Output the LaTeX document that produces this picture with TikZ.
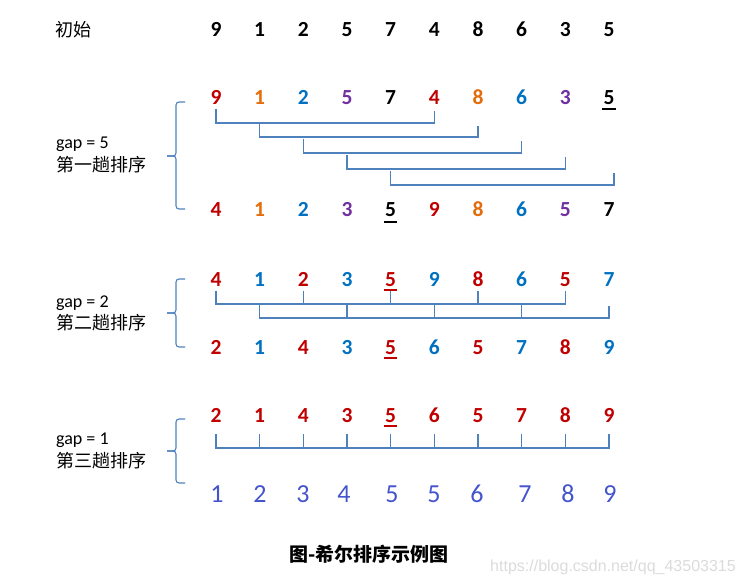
\documentclass[tikz,border=0pt]{standalone}
\usepackage{fontspec}
\setmainfont{Carlito}
\newfontfamily\cjk{Noto Sans CJK SC}
\newfontfamily\wmfont{Liberation Sans}
\definecolor{R}{HTML}{C00000}
\definecolor{O}{HTML}{E46C0A}
\definecolor{B}{HTML}{0070C0}
\definecolor{P}{HTML}{7030A0}
\definecolor{K}{HTML}{000000}
\definecolor{thin}{RGB}{68,84,204}
\definecolor{lineblue}{RGB}{79,129,189}
\begin{document}
\begin{tikzpicture}[x=1pt,y=-1pt,
  dig/.style={inner sep=0pt, anchor=base, font=\fontsize{21.5}{24}\selectfont\bfseries},
  thindig/.style={inner sep=0pt, anchor=base, text=thin, font=\fontsize{26}{30}\selectfont},
  conn/.style={draw=lineblue, line width=1.1pt},
  bracestyle/.style={draw=lineblue, line width=1.1pt, rounded corners=3pt},
  ulK/.style={draw=K, line width=1.7pt},
  ulR/.style={draw=R, line width=1.7pt},
  lbl/.style={inner sep=0pt, font=\fontsize{18}{22}\selectfont},
  cjklbl/.style={inner sep=0pt, font=\cjk\fontsize{18}{22}\selectfont}]
\useasboundingbox (0,0) rectangle (744,585);

% initial row
\node[cjklbl, anchor=west] (init) at (55,30) {初始};
\foreach \v/\c [count=\i] in {9/K,1/K,2/K,5/K,7/K,4/K,8/K,6/K,3/K,5/K}{
  \pgfmathsetmacro\xx{216+43.67*(\i-1)}
  \node[dig,text=\c] (s\i) at (\xx,37) {\v};
}

% group 1
\foreach \v/\c [count=\i] in {9/R,1/O,2/B,5/P,7/K,4/R,8/O,6/B,3/P,5/K}{
  \pgfmathsetmacro\xx{216+43.67*(\i-1)}
  \node[dig,text=\c] (a\i) at (\xx,105) {\v};
}
\foreach \v/\c [count=\i] in {4/R,1/O,2/B,3/P,5/K,9/R,8/O,6/B,5/P,7/K}{
  \pgfmathsetmacro\xx{216+43.67*(\i-1)}
  \node[dig,text=\c] (b\i) at (\xx,217) {\v};
}
\draw[ulK] ([shift={(-1pt,-4pt)}]a10.base west) -- ([shift={(1pt,-4pt)}]a10.base east);
\draw[ulK] ([shift={(-1pt,-5pt)}]b5.base west) -- ([shift={(1pt,-5pt)}]b5.base east);

\draw[conn] (a1 |- 0,109) -- (a1 |- 0,123) -| (a6 |- 0,111);
\draw[conn] (a2 |- 0,123) -- (a2 |- 0,137) -| (a7 |- 0,126);
\draw[conn] (a3 |- 0,139) -- (a3 |- 0,153) -| (a8 |- 0,141);
\draw[conn] (a4 |- 0,155) -- (a4 |- 0,169) -| (a9 |- 0,157);
\coordinate (e5) at (614,173);
\draw[conn] (a5 |- 0,171) -- (a5 |- 0,185) -| (e5);

\draw[bracestyle] (185,102) -- (176,102) -- (176,156) -- (167,156);
\draw[bracestyle] (167,156) -- (176,156) -- (176,209) -- (185,209);
\node[lbl, anchor=base west] (g1) at (56,149) {gap = 5};
\node[cjklbl, anchor=west] (t1) at (56,165) {第一趟排序};

% group 2
\foreach \v/\c [count=\i] in {4/R,1/B,2/R,3/B,5/R,9/B,8/R,6/B,5/R,7/B}{
  \pgfmathsetmacro\xx{216+43.67*(\i-1)}
  \node[dig,text=\c] (c\i) at (\xx,287) {\v};
}
\foreach \v/\c [count=\i] in {2/R,1/B,4/R,3/B,5/R,6/B,5/R,7/B,8/R,9/B}{
  \pgfmathsetmacro\xx{216+43.67*(\i-1)}
  \node[dig,text=\c] (d\i) at (\xx,354) {\v};
}
\draw[ulR] ([shift={(-1pt,-3pt)}]c5.base west) -- ([shift={(1pt,-3pt)}]c5.base east);
\draw[ulR] ([shift={(-1pt,-4pt)}]d5.base west) -- ([shift={(1pt,-4pt)}]d5.base east);

\draw[conn] (c1 |- 0,291) -- (c1 |- 0,304) -- (c9 |- 0,304) -- (c9 |- 0,291);
\foreach \k in {3,5,7}{ \draw[conn] (c\k |- 0,291) -- (c\k |- 0,304); }
\draw[conn] (c2 |- 0,304) -- (c2 |- 0,318) -- (c10 |- 0,318) -- (c10 |- 0,306);
\foreach \k in {4,6,8}{ \draw[conn] (c\k |- 0,304) -- (c\k |- 0,318); }

\draw[bracestyle] (185,279) -- (176,279) -- (176,313) -- (167,313);
\draw[bracestyle] (167,313) -- (176,313) -- (176,347) -- (185,347);
\node[lbl, anchor=base west] (g2) at (56,307) {gap = 2};
\node[cjklbl, anchor=west] (t2) at (56,323) {第二趟排序};

% group 3
\foreach \v [count=\i] in {2,1,4,3,5,6,5,7,8,9}{
  \pgfmathsetmacro\xx{216+43.67*(\i-1)}
  \node[dig,text=R] (e\i) at (\xx,422) {\v};
}
\draw[ulR] ([shift={(-1pt,-4pt)}]e5.base west) -- ([shift={(1pt,-4pt)}]e5.base east);
\foreach \v/\xx [count=\i] in {1/217,2/260,3/303,4/344,5/392,5/434,6/477,7/525,8/568,9/610}{
  \node[thindig] (f\i) at (\xx,502) {\v};
}
\draw[conn] (e1 |- 0,434) -- (e1 |- 0,448) -- (e10 |- 0,448) -- (e10 |- 0,434);
\foreach \k in {2,...,9}{ \draw[conn] (e\k |- 0,434) -- (e\k |- 0,448); }

\draw[bracestyle] (185,419) -- (176,419) -- (176,451) -- (167,451);
\draw[bracestyle] (167,451) -- (176,451) -- (176,483) -- (185,483);
\node[lbl, anchor=base west] (g3) at (56,444) {gap = 1};
\node[cjklbl, anchor=west] (t3) at (56,461) {第三趟排序};

% caption and watermark
\node[inner sep=0pt, font=\cjk\bfseries\fontsize{19}{22}\selectfont] (cap) at (369,554) {图-希尔排序示例图};
\node[inner sep=0pt, text=black!14, font=\wmfont\fontsize{16}{18}\selectfont] (wm) at (613,567) {https://blog.csdn.net/qq\_43503315};
\end{tikzpicture}
\end{document}
